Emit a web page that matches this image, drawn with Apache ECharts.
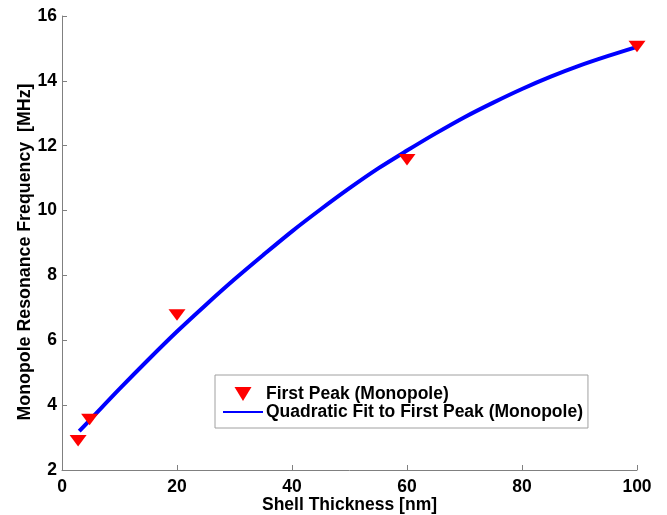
<!DOCTYPE html>
<html>
<head>
<meta charset="utf-8">
<script src="https://cdn.jsdelivr.net/npm/echarts@6/dist/echarts.min.js"></script>
<style>
html,body{margin:0;padding:0;background:#fff;}
#chart{width:667px;height:515px;}
</style>
</head>
<body>
<div id="chart"></div>
<script>
// Measured data points (First Peak)
var peakX = [2.8, 4.8, 20, 60, 100];
var peakY = [2.9, 3.56, 6.78, 11.57, 15.06];
// Fit curve
var fitX = [3, 5, 10, 15, 20, 25, 30, 35, 40, 45, 50, 55, 60, 65, 70, 75, 80, 85, 90, 95, 100];
var fitY = [3.2, 3.57, 4.5, 5.4, 6.27, 7.09, 7.88, 8.63, 9.36, 10.04, 10.69, 11.3, 11.85, 12.38, 12.88, 13.33, 13.75, 14.13, 14.47, 14.77, 15.05];
var xTicks = [0, 20, 40, 60, 80, 100];
var yTicks = [2, 4, 6, 8, 10, 12, 14, 16];
var seriesNames = ['First Peak (Monopole)', 'Quadratic Fit to First Peak (Monopole)'];
var xTitle = 'Shell Thickness [nm]';
var yTitle = 'Monopole Resonance Frequency  [MHz]';

var FONT = "'Liberation Sans', Arial, Helvetica, sans-serif";
var FS = 17.5;
var tri = 'path://M0,0 L17,0 L8.5,14 Z';

function pairs(xs, ys){ return xs.map(function(x,i){ return [x, ys[i]]; }); }

var chart = echarts.init(document.getElementById('chart'), null, {renderer:'canvas'});
chart.setOption({
  animation: false,
  backgroundColor: '#fff',
  grid: {left: 62, top: 16, right: 30, bottom: 45, containLabel: false, outerBoundsMode: 'none'},
  xAxis: {
    type: 'value', min: xTicks[0], max: xTicks[xTicks.length-1], interval: 20,
    name: xTitle, nameLocation: 'middle', nameGap: 26, nameMoveOverlap: false,
    nameTextStyle: {fontFamily: FONT, fontWeight: 'bold', fontSize: FS, color: '#000'},
    axisLine: {show: true, onZero: false, lineStyle: {color: '#808080', width: 1}},
    axisTick: {show: true, inside: true, length: 5, lineStyle: {color: '#808080'}},
    axisLabel: {fontFamily: FONT, fontWeight: 'bold', fontSize: FS, color: '#000', margin: 8},
    splitLine: {show: false}
  },
  yAxis: {
    type: 'value', min: yTicks[0], max: yTicks[yTicks.length-1], interval: 2,
    name: yTitle, nameLocation: 'middle', nameGap: 28, nameRotate: 90, nameMoveOverlap: false,
    nameTextStyle: {fontFamily: FONT, fontWeight: 'bold', fontSize: 17.8, color: '#000', padding: [0, 18, 0, 0]},
    axisLine: {show: true, onZero: false, lineStyle: {color: '#808080', width: 1}},
    axisTick: {show: true, inside: true, length: 5, lineStyle: {color: '#808080'}},
    axisLabel: {fontFamily: FONT, fontWeight: 'bold', fontSize: FS, color: '#000', margin: 5},
    splitLine: {show: false}
  },
  legend: {
    orient: 'vertical', left: 215, top: 375,
    padding: [10, 5, 7, 7],
    itemGap: 0,
    itemWidth: 40, itemHeight: 14,
    backgroundColor: '#fff',
    borderColor: '#a0a0a0', borderWidth: 1, borderRadius: 0,
    textStyle: {fontFamily: FONT, fontWeight: 'bold', fontSize: FS, color: '#000', padding: [0, 0, 0, -2]},
    data: [
      {name: seriesNames[0]},
      {name: seriesNames[1], itemStyle: {opacity: 0}}
    ]
  },
  series: [
    {
      name: seriesNames[1], type: 'line',
      data: pairs(fitX, fitY),
      smooth: 0.3, showSymbol: false, symbol: 'none',
      lineStyle: {color: '#0000ff', width: 4},
      itemStyle: {color: '#0000ff'},
      z: 2
    },
    {
      name: seriesNames[0], type: 'scatter',
      data: pairs(peakX, peakY),
      symbol: tri, symbolSize: [17, 14], symbolKeepAspect: true,
      itemStyle: {color: '#ff0000', opacity: 1},
      z: 3
    }
  ]
});
</script>
</body>
</html>
